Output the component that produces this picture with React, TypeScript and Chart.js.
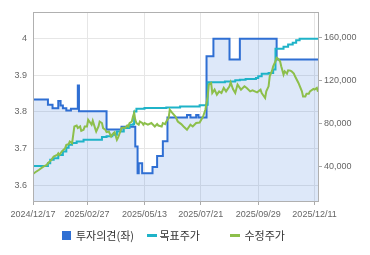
import React, { useEffect, useRef } from "react";
import { Chart, registerables } from "chart.js";

Chart.register(...registerables);

// x positions are trading-day indices (0 = 2024/12/17)
const lastIndex = 248;
const tickIndex = [0, 47, 97, 146, 196, 245];
const tickLabels = ["2024/12/17", "2025/02/27", "2025/05/13", "2025/07/21", "2025/09/29", "2025/12/11"];
const leftTicks = [3.6, 3.7, 3.8, 3.9, 4.0];
const rightTicks = [40000, 80000, 120000, 160000];

const legendLabels = ["투자의견(좌)", "목표주가", "수정주가"];

// 투자의견 (left axis), value changes at each index
const opinionSeries: [number, number][] = [
  [0, 3.834], [13, 3.82], [17, 3.81], [22, 3.83], [24, 3.818], [26, 3.81], [29, 3.804], [33, 3.809],
  [39, 3.872], [40, 3.802], [64, 3.752], [77, 3.76], [89, 3.706], [91, 3.633], [92, 3.66], [95, 3.633],
  [104, 3.65], [108, 3.68], [113, 3.72], [117, 3.785], [134, 3.792], [137, 3.785], [142, 3.792], [144, 3.785],
  [151, 3.952], [157, 4.0], [171, 3.943], [180, 4.0], [212, 3.943], [248, 3.943],
];

// 목표주가 (right axis)
const targetSeries: [number, number][] = [
  [0, 40700], [12, 40700], [13, 43200], [15, 46300], [18, 47900], [22, 50900], [26, 54000], [29, 57500],
  [31, 60300], [34, 61900], [38, 63400], [44, 65000], [57, 65000], [60, 67500], [64, 68200], [69, 69600],
  [73, 72700], [79, 75900], [84, 79000], [87, 79400], [88, 91400], [90, 93900], [97, 94600], [116, 95100],
  [128, 96100], [145, 97200], [151, 97700], [152, 118500], [167, 119200], [176, 120400], [180, 121000],
  [185, 121700], [194, 122600], [196, 124100], [199, 126600], [205, 127300], [209, 130400], [211, 149700],
  [218, 151600], [222, 153700], [226, 155300], [229, 157800], [232, 159100], [248, 159100],
];

// 수정주가 (right axis)
const priceSeries: [number, number][] = [
  [0, 33200], [2, 34800], [5, 36900], [9, 40000], [12, 41600], [13, 43200], [16, 46300], [18, 49300],
  [21, 50900], [22, 52500], [23, 50900], [25, 54000], [28, 57200], [29, 60300], [31, 60900], [32, 63400],
  [34, 61900], [35, 69600], [36, 77400], [38, 78300], [39, 75900], [41, 77400], [42, 73400], [44, 74300],
  [45, 77400], [47, 77400], [48, 83600], [50, 80600], [51, 79000], [52, 82700], [54, 75900], [55, 72700],
  [57, 77400], [58, 82000], [60, 80600], [61, 75900], [63, 74300], [64, 72100], [66, 72700], [67, 70300],
  [68, 68000], [70, 71200], [71, 72100], [73, 65000], [74, 67100], [76, 72700], [77, 75900], [79, 76400],
  [80, 75900], [82, 78300], [83, 77400], [84, 80600], [86, 82000], [87, 86700], [88, 89900], [89, 83600],
  [90, 80600], [92, 79000], [93, 82000], [95, 80600], [96, 79000], [97, 80600], [100, 79000], [103, 80600],
  [106, 77400], [108, 79600], [109, 78300], [112, 77400], [113, 80600], [115, 79600], [116, 82000],
  [118, 85200], [119, 93000], [121, 90200], [124, 86700], [126, 82000], [129, 79600], [131, 77400],
  [134, 74300], [137, 79000], [139, 77400], [142, 80600], [145, 81100], [148, 86700], [150, 93000],
  [152, 105400], [153, 116400], [155, 117900], [156, 108600], [158, 111700], [160, 107000], [162, 110100],
  [164, 108600], [166, 113300], [168, 110100], [171, 114800], [172, 118500], [174, 112300], [176, 108600],
  [178, 116400], [181, 111700], [184, 114800], [186, 113300], [189, 110100], [191, 111000], [195, 109200],
  [198, 111700], [199, 108600], [200, 107000], [202, 103900], [203, 110100], [205, 114800], [206, 124100],
  [208, 129400], [209, 133500], [211, 138100], [212, 141300], [213, 140600], [215, 138100], [216, 133500],
  [218, 125700], [219, 128800], [221, 126600], [222, 129700], [224, 129400], [225, 128800], [227, 126600],
  [228, 124100], [231, 117900], [234, 110100], [235, 105400], [237, 105400], [238, 107900], [240, 107900],
  [241, 110100], [244, 112300], [245, 111700], [247, 113300], [248, 109800],
];

const leftAxis = { min: 3.557, max: 4.073 };
const rightAxis = { min: 8000, max: 184000 };

const BLUE = "#2f6fd3";
const TEAL = "#1fb3c8";
const GREEN = "#8dbf4b";

const toXY = (s: [number, number][]) => s.map(([x, y]) => ({ x, y }));

export default function App() {
  const ref = useRef<HTMLCanvasElement>(null);

  useEffect(() => {
    if (!ref.current) return;
    const tickFont = { family: "'Liberation Sans', Arial, sans-serif", size: 9 };
    const frame = {
      id: "frame",
      afterDatasetsDraw(chart: any) {
        const { left, top, right, bottom } = chart.chartArea;
        const c = chart.ctx;
        c.save();
        c.strokeStyle = "#b0b0b0";
        c.lineWidth = 1;
        const l = Math.round(left) + 0.5;
        const t = Math.round(top) + 0.5;
        c.strokeRect(l, t, Math.round(right) - Math.round(left), Math.round(bottom) - Math.round(top));
        c.restore();
      },
    };
    const chart = new Chart(ref.current, {
      type: "line",
      data: {
        datasets: [
          {
            label: legendLabels[0],
            data: toXY(opinionSeries),
            yAxisID: "y",
            stepped: true,
            borderColor: BLUE,
            borderWidth: 2,
            backgroundColor: "rgba(45,110,215,0.16)",
            fill: "start",
            pointRadius: 0,
            order: 3,
          },
          {
            label: legendLabels[1],
            data: toXY(targetSeries),
            yAxisID: "y1",
            stepped: true,
            borderColor: TEAL,
            borderWidth: 2,
            fill: false,
            pointRadius: 0,
            order: 2,
          },
          {
            label: legendLabels[2],
            data: toXY(priceSeries),
            yAxisID: "y1",
            borderColor: GREEN,
            borderWidth: 2,
            fill: false,
            pointRadius: 0,
            tension: 0,
            order: 1,
          },
        ],
      },
      options: {
        animation: false,
        responsive: false,
        layout: { padding: { top: 12, left: 0, right: 0, bottom: 0 } },
        plugins: { legend: { display: false }, tooltip: { enabled: false } },
        scales: {
          x: {
            type: "linear",
            min: 0,
            max: lastIndex,
            afterBuildTicks: (s: any) => {
              s.ticks = tickIndex.map((v) => ({ value: v }));
            },
            afterFit: (s: any) => {
              s.height = 54;
            },
            ticks: {
              autoSkip: false,
              maxRotation: 0,
              minRotation: 0,
              padding: 4,
              color: "#666",
              font: tickFont,
              callback: (v: any) => tickLabels[tickIndex.indexOf(Number(v))] ?? "",
            },
            grid: { color: "#e6e6e6", tickColor: "#aaa", tickLength: 4, drawTicks: true },
            border: { display: false },
          },
          y: {
            type: "linear",
            position: "left",
            min: leftAxis.min,
            max: leftAxis.max,
            afterBuildTicks: (s: any) => {
              s.ticks = leftTicks.map((v) => ({ value: v }));
            },
            afterFit: (s: any) => {
              s.width = 33;
            },
            ticks: {
              padding: 6,
              color: "#666",
              font: tickFont,
              callback: (v: any) => String(Math.round(Number(v) * 10) / 10),
            },
            grid: { color: "#e6e6e6", drawTicks: false },
            border: { display: false },
          },
          y1: {
            type: "linear",
            position: "right",
            min: rightAxis.min,
            max: rightAxis.max,
            afterBuildTicks: (s: any) => {
              s.ticks = rightTicks.map((v) => ({ value: v }));
            },
            afterFit: (s: any) => {
              s.width = 52;
            },
            ticks: {
              padding: 2,
              color: "#666",
              font: tickFont,
              callback: (v: any) => Number(v).toLocaleString("en-US"),
            },
            grid: { drawOnChartArea: false, drawTicks: true, tickLength: 4, tickColor: "#aaa" },
            border: { display: false },
          },
        },
      } as any,
      plugins: [frame],
    });
    return () => chart.destroy();
  }, []);

  const legendText: React.CSSProperties = {
    position: "absolute",
    top: 228,
    height: 14,
    lineHeight: "14px",
    fontSize: 11,
    fontFamily: "'Noto Sans CJK KR', 'Noto Sans', sans-serif",
    color: "#333",
    whiteSpace: "nowrap",
  };

  return (
    <div style={{ position: "absolute", left: 0, top: 0, width: 370, height: 255, background: "#fff" }}>
      <canvas ref={ref} width={370} height={255} style={{ display: "block", width: 370, height: 255 }} />
      <div style={{ position: "absolute", left: 62, top: 230.5, width: 9, height: 9, background: BLUE }} />
      <div style={{ ...legendText, left: 76 }}>{legendLabels[0]}</div>
      <div style={{ position: "absolute", left: 147, top: 233.5, width: 10, height: 3, background: TEAL }} />
      <div style={{ ...legendText, left: 159.5 }}>{legendLabels[1]}</div>
      <div style={{ position: "absolute", left: 230, top: 233.5, width: 10, height: 3, background: GREEN }} />
      <div style={{ ...legendText, left: 244.5 }}>{legendLabels[2]}</div>
    </div>
  );
}
